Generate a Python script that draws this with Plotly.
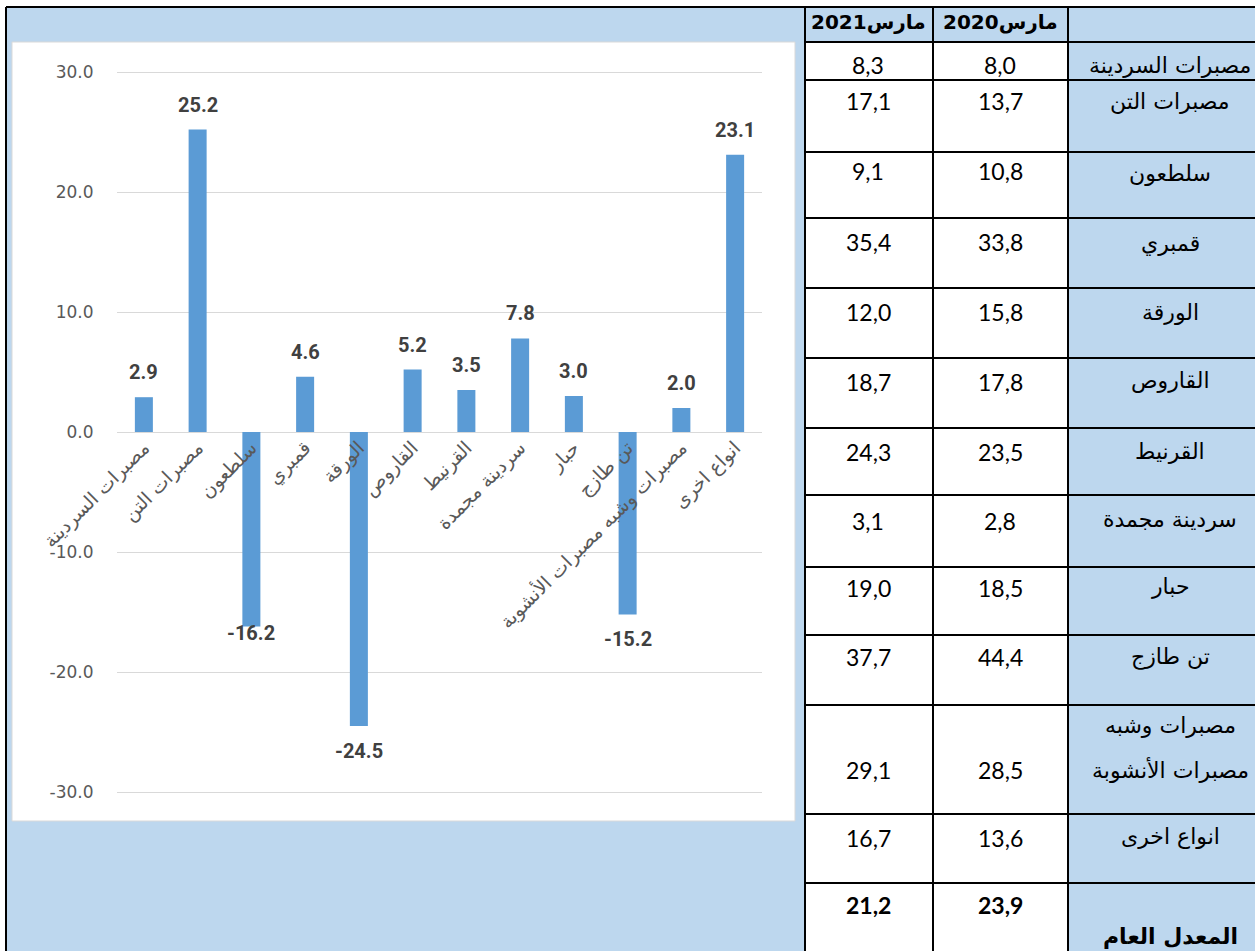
import plotly.graph_objects as go

# ---------------- data ----------------
categories = ["مصبرات السردينة", "مصبرات التن", "سلطعون", "قمبري", "الورقة", "القاروص",
              "القرنيط", "سردينة مجمدة", "حبار", "تن طازج",
              "مصبرات وشبه مصبرات الأنشوبة", "انواع اخرى"]
change_pct = [2.9, 25.2, -16.2, 4.6, -24.5, 5.2, 3.5, 7.8, 3.0, -15.2, 2.0, 23.1]
y_ticks = [-30, -20, -10, 0, 10, 20, 30]

table_header = ["مارس2021", "مارس2020"]
table_labels = [["مصبرات السردينة"], ["مصبرات التن"], ["سلطعون"], ["قمبري"], ["الورقة"],
                ["القاروص"], ["القرنيط"], ["سردينة مجمدة"], ["حبار"], ["تن طازج"],
                ["مصبرات وشبه", "مصبرات الأنشوبة"], ["انواع اخرى"], ["المعدل العام"]]
values_2021 = [8.3, 17.1, 9.1, 35.4, 12.0, 18.7, 24.3, 3.1, 19.0, 37.7, 29.1, 16.7, 21.2]
values_2020 = [8.0, 13.7, 10.8, 33.8, 15.8, 17.8, 23.5, 2.8, 18.5, 44.4, 28.5, 13.6, 23.9]

# ---------------- layout geometry (pixels) ----------------
W, H = 1255, 951
LIGHT = "#BDD7EE"
BAR = "#5B9BD5"
GRID = "#D9D9D9"

def px(x):
    return x / W

def py(y):
    return 1 - y / H

row_tops = [42, 80, 152, 218, 288, 358, 428, 495, 567, 635, 705, 814, 883]
value_y = [65, 101, 171, 242, 312, 382, 452, 521, 588, 657, 770, 838, 905]
label_y = [65, 101, 174, 244, 313, 381, 452, 519, 586, 657, 725, 836, 936]
col_lines = [805, 933, 1068]
col1_c, col2_c, lab_c = 868, 1000, 1170
label_shift = [25, 25, -7, 25, -25, 25, 25, 25, 25, -25, 25, 25]

# plot area: zero at y=432, 12 px per unit
yr = 30.2
ppu = 12.0
zero_y = 432
top_px = zero_y - yr * ppu
bot_px = zero_y + yr * ppu

fig = go.Figure()
fig.add_trace(go.Bar(x=categories, y=change_pct, marker_color=BAR,
                     marker_line_width=0, hoverinfo="x+y"))

annotations = []
for c, v, s in zip(categories, change_pct, label_shift):
    annotations.append(dict(x=c, y=v, xref="x", yref="y", text=f"{v:.1f}",
                            showarrow=False, yshift=s,
                            xanchor="center", yanchor="middle",
                            font=dict(family="Roboto, Open Sans, sans-serif", size=20,
                                      color="#404040", weight="bold")))

shapes = []
shapes.append(dict(type="rect", xref="paper", yref="paper", x0=px(6), x1=px(1255),
                   y0=py(951), y1=py(7), fillcolor=LIGHT, line_width=0, layer="below"))
shapes.append(dict(type="rect", xref="paper", yref="paper", x0=px(12), x1=px(795),
                   y0=py(821), y1=py(42), fillcolor="white",
                   line=dict(color=GRID, width=1), layer="below"))
shapes.append(dict(type="rect", xref="paper", yref="paper", x0=px(805), x1=px(1068),
                   y0=py(951), y1=py(42), fillcolor="white", line_width=0, layer="below"))
blk = dict(color="black", width=2)
shapes.append(dict(type="line", xref="paper", yref="paper", x0=px(6), x1=px(1255),
                   y0=py(7), y1=py(7), line=blk))
shapes.append(dict(type="line", xref="paper", yref="paper", x0=px(6), x1=px(6),
                   y0=py(7), y1=py(951), line=blk))
for cx in col_lines:
    shapes.append(dict(type="line", xref="paper", yref="paper", x0=px(cx), x1=px(cx),
                       y0=py(7), y1=py(951), line=blk))
for ry in row_tops:
    shapes.append(dict(type="line", xref="paper", yref="paper", x0=px(805), x1=px(1255),
                       y0=py(ry), y1=py(ry), line=blk))

num_font = dict(family="Lato, Open Sans, sans-serif", size=23, color="black")
ar_font = dict(family="DejaVu Sans, sans-serif", size=22, color="black")
hdr_font = dict(family="DejaVu Sans, sans-serif", size=20, color="black", weight="bold")

def cell_text(x, y, t, f):
    return dict(x=px(x), y=py(y), xref="paper", yref="paper", text=t, showarrow=False,
                xanchor="center", yanchor="middle", font=f)

for hx, t in zip([col1_c, col2_c], table_header):
    annotations.append(cell_text(hx, 22, t, hdr_font))

def fmt(v):
    return f"{v:.1f}".replace(".", ",")

n = len(table_labels)
for i in range(n):
    bold = (i == n - 1)
    nf = dict(num_font, weight="bold") if bold else num_font
    af = dict(ar_font, weight="bold") if bold else ar_font
    annotations.append(cell_text(col1_c, value_y[i], fmt(values_2021[i]), nf))
    annotations.append(cell_text(col2_c, value_y[i], fmt(values_2020[i]), nf))
    for k, line in enumerate(table_labels[i]):
        annotations.append(cell_text(lab_c, label_y[i] + 45 * k, line, af))

fig.update_layout(
    width=W, height=H, autosize=False,
    margin=dict(l=0, r=0, t=0, b=0, pad=0),
    paper_bgcolor="white", plot_bgcolor="rgba(0,0,0,0)",
    showlegend=False, bargap=0.665,
    shapes=shapes, annotations=annotations,
    xaxis=dict(domain=[px(117), px(762)], anchor="free", automargin=False,
               position=py(zero_y), showgrid=False, zeroline=False, showline=False,
               tickangle=-45, ticks="", fixedrange=True,
               tickfont=dict(family="DejaVu Sans, sans-serif", size=19, color="#595959")),
    yaxis=dict(domain=[py(bot_px), py(top_px)], range=[-yr, yr], automargin=False,
               tickvals=y_ticks, ticktext=[f"{v:.1f}" for v in y_ticks],
               showgrid=True, gridcolor=GRID,
               gridwidth=1, zeroline=True, zerolinecolor=GRID, zerolinewidth=1,
               showline=False, ticks="outside", ticklen=19,
               tickcolor="rgba(0,0,0,0)", fixedrange=True,
               tickfont=dict(family="DejaVu Sans, sans-serif", size=17, color="#595959")),
)

fig.write_html("out.html", config={"displayModeBar": False},
               post_script="document.body.style.margin='0';document.body.style.overflow='hidden';")
